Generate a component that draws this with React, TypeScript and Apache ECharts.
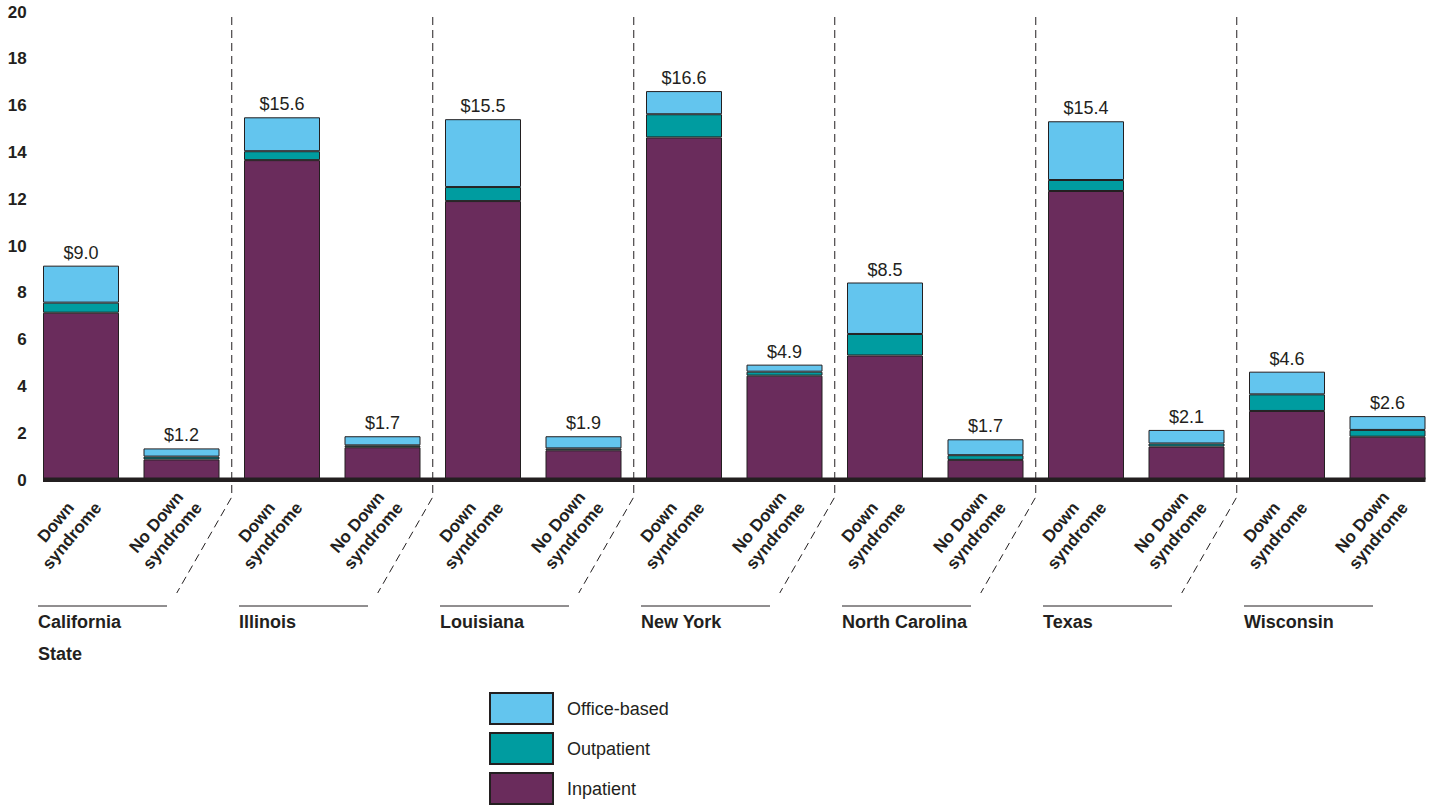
import React, { useEffect, useRef } from "react";
import * as echarts from "echarts";

const states = ["California", "Illinois", "Louisiana", "New York", "North Carolina", "Texas", "Wisconsin"];
const groupLabels = ["Down\nsyndrome", "No Down\nsyndrome"];
const yTicks = { min: 0, max: 20, interval: 2 };

// order: [State DS, State No DS] for each state
const inpatient = [7.15, 0.88, 13.67, 1.4, 11.92, 1.27, 14.64, 4.46, 5.32, 0.86, 12.35, 1.43, 2.95, 1.85];
const outpatient = [0.43, 0.12, 0.38, 0.08, 0.6, 0.08, 0.99, 0.17, 0.92, 0.2, 0.47, 0.13, 0.71, 0.29];
const officeBased = [1.58, 0.35, 1.45, 0.39, 2.9, 0.52, 0.99, 0.3, 2.2, 0.68, 2.51, 0.58, 0.97, 0.59];
const totalLabels = ["$9.0", "$1.2", "$15.6", "$1.7", "$15.5", "$1.9", "$16.6", "$4.9", "$8.5", "$1.7", "$15.4", "$2.1", "$4.6", "$2.6"];

const categories = states.flatMap((s) => groupLabels.map((g) => s + "|" + g));

const FONT = "'Liberation Sans', Arial, Helvetica, sans-serif";
const INK = "#231f20";
const COLORS = { office: "#63c5ee", out: "#009ca0", in: "#6a2c5c" };

export default function App() {
  const ref = useRef<HTMLDivElement>(null);
  useEffect(() => {
    document.body.style.margin = "0";
    const chart = echarts.init(ref.current!, null, { renderer: "svg" });
    const itemStyleBase = { borderColor: INK, borderWidth: 1 };
    const option: any = {
      animation: false,
      grid: { left: 30.75, width: 1407, top: 12, height: 468 },
      legend: {
        data: ["Office-based", "Outpatient", "Inpatient"],
        orient: "vertical",
        left: 489,
        top: 692,
        height: 160,
        itemWidth: 63,
        itemHeight: 31,
        itemGap: 7,
        padding: 0,
        selectedMode: false,
        icon: "rect",
        textStyle: { fontSize: 18, color: INK, fontFamily: FONT, padding: [0, 0, 0, 9] },
      },
      xAxis: {
        type: "category",
        data: categories,
        axisLine: { show: false },
        axisTick: { show: false },
        axisLabel: {
          interval: 0,
          rotate: 50,
          align: "right",
          verticalAlign: "top",
          margin: -4,
          padding: [0, 11, 0, 0],
          formatter: (_v: string, idx: number) =>
            groupLabels[idx % 2].split("\n").map((s) => `{a|${s}}`).join("\n"),
          rich: {
            a: { align: "center", fontWeight: "bold", fontSize: 17, lineHeight: 21, color: INK, fontFamily: FONT },
          },
        },
      },
      yAxis: {
        type: "value",
        min: yTicks.min,
        max: yTicks.max,
        interval: yTicks.interval,
        axisLine: { show: false },
        axisTick: { show: false },
        splitLine: { show: false },
        axisLabel: { fontWeight: "bold", fontSize: 17, color: INK, fontFamily: FONT, margin: 4 },
      },
      series: [
        {
          name: "Inpatient",
          type: "bar",
          stack: "t",
          barWidth: 76,
          data: inpatient,
          itemStyle: { ...itemStyleBase, color: COLORS.in },
        },
        {
          name: "Outpatient",
          type: "bar",
          stack: "t",
          barWidth: 76,
          data: outpatient,
          itemStyle: { ...itemStyleBase, color: COLORS.out },
        },
        {
          name: "Office-based",
          type: "bar",
          stack: "t",
          barWidth: 76,
          data: officeBased,
          itemStyle: { ...itemStyleBase, color: COLORS.office },
          label: {
            show: true,
            position: "top",
            distance: 4,
            formatter: (p: any) => totalLabels[p.dataIndex],
            fontSize: 18,
            color: INK,
            fontFamily: FONT,
          },
        },
      ],
    };
    chart.setOption(option);

    const xs = categories.map((_, i) => chart.convertToPixel({ xAxisIndex: 0 }, i) as number);
    const y0 = chart.convertToPixel({ yAxisIndex: 0 }, 0) as number;
    const half = 38;
    const graphics: any[] = [];
    graphics.push({
      type: "rect",
      z: 100,
      shape: { x: xs[0] - half, y: y0 - 2.5, width: xs[xs.length - 1] - xs[0] + 2 * half, height: 4.5 },
      style: { fill: INK },
    });
    states.forEach((s, g) => {
      const x1 = xs[2 * g] - half - 5;
      graphics.push({
        type: "line",
        shape: { x1, y1: 606, x2: x1 + 129, y2: 606 },
        style: { stroke: INK, lineWidth: 1 },
      });
      graphics.push({
        type: "text",
        x: x1,
        y: 622,
        style: { text: s, font: `bold 18px ${FONT}`, fill: INK, verticalAlign: "middle", align: "left" },
      });
      if (g < states.length - 1) {
        const bx = (xs[2 * g + 1] + xs[2 * g + 2]) / 2;
        graphics.push({
          type: "polyline",
          shape: { points: [[bx, 17], [bx, 497], [bx - 55, 593]] },
          style: { stroke: INK, lineWidth: 1, lineDash: [8, 5], fill: null },
        });
      }
    });
    graphics.push({
      type: "text",
      x: xs[0] - half - 5,
      y: 654,
      style: { text: "State", font: `bold 18px ${FONT}`, fill: INK, verticalAlign: "middle", align: "left" },
    });
    chart.setOption({ graphic: graphics });

    return () => chart.dispose();
  }, []);
  return (
    <div
      ref={ref}
      style={{ position: "absolute", left: 0, top: 0, width: 1439, height: 805, background: "#fff" }}
    />
  );
}
